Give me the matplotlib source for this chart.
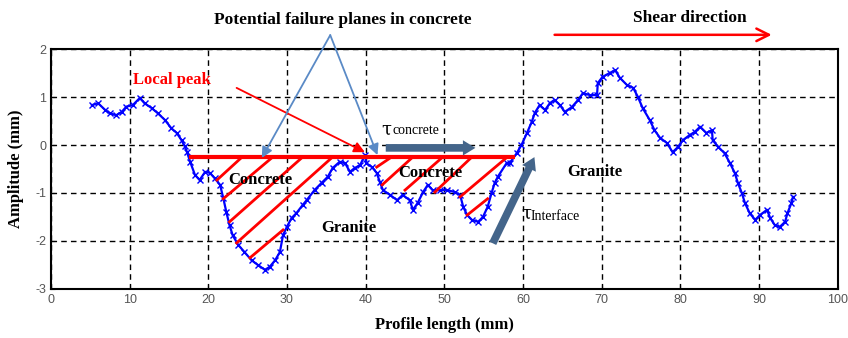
import matplotlib
matplotlib.use("Agg")
import matplotlib.pyplot as plt

plt.rcParams["axes.unicode_minus"] = False

# profile (mm, mm)
profile_x = [5.2, 6.0, 6.9, 7.5, 8.3, 9.0, 9.6, 10.4, 11.3, 11.9, 12.8, 13.6, 14.5, 15.3,
             16.0, 16.6, 17.0, 17.3, 17.7, 18.3, 18.9, 19.6, 20.2, 20.8, 21.5, 21.9, 22.3,
             22.7, 23.1, 23.8, 24.6, 25.5, 26.3, 27.2, 27.8, 28.5, 29.1, 29.5, 30.0, 30.6,
             31.2, 32.0, 32.5, 33.5, 34.4, 35.2, 35.8, 36.7, 37.4, 38.0, 38.6, 39.3, 39.9,
             40.1, 40.8, 41.4, 41.8, 42.2, 43.1, 44.0, 44.7, 45.6, 46.0, 46.6, 47.3, 47.9,
             48.5, 49.4, 50.4, 51.3, 52.0, 52.4, 52.9, 53.5, 54.3, 54.9, 55.5, 56.0, 56.4,
             56.8, 57.9, 58.3, 59.2, 59.8, 60.5, 61.1, 61.5, 62.1, 62.8, 63.4, 64.0, 64.7,
             65.3, 66.2, 67.0, 67.6, 68.5, 69.4, 69.5, 70.1, 71.0, 71.7, 72.3, 73.2, 74.0,
             74.6, 75.2, 76.1, 76.7, 77.4, 78.3, 79.0, 79.7, 80.3, 81.2, 81.8, 82.5, 83.3,
             84.0, 84.1, 84.8, 85.6, 86.3, 86.9, 87.3, 87.8, 88.2, 88.8, 89.5, 90.1, 91.0,
             91.4, 92.0, 92.6, 93.3, 93.6, 94.1, 94.3]
profile_y = [0.83, 0.87, 0.73, 0.66, 0.62, 0.69, 0.80, 0.83, 0.98, 0.87, 0.77, 0.66, 0.52, 0.35,
             0.25, 0.10, -0.02, -0.15, -0.35, -0.62, -0.73, -0.56, -0.58, -0.69, -0.83, -1.10, -1.40,
             -1.67, -1.88, -2.08, -2.23, -2.40, -2.50, -2.60, -2.54, -2.40, -2.23, -1.88, -1.70, -1.52,
             -1.42, -1.25, -1.15, -0.94, -0.79, -0.66, -0.48, -0.35, -0.38, -0.56, -0.48, -0.42, -0.21,
             -0.38, -0.46, -0.58, -0.77, -0.94, -1.04, -1.15, -1.04, -1.15, -1.35, -1.21, -0.98, -0.83,
             -0.94, -0.94, -0.94, -0.98, -1.04, -1.29, -1.46, -1.56, -1.60, -1.50, -1.29, -1.00, -0.79,
             -0.66, -0.38, -0.38, -0.17, 0.00, 0.25, 0.48, 0.67, 0.83, 0.73, 0.87, 0.94, 0.83,
             0.69, 0.79, 0.94, 1.08, 1.04, 1.04, 1.29, 1.42, 1.50, 1.56, 1.40, 1.25, 1.19,
             1.00, 0.77, 0.52, 0.31, 0.15, 0.04, -0.15, -0.04, 0.10, 0.21, 0.27, 0.38, 0.25,
             0.31, 0.10, -0.04, -0.17, -0.38, -0.58, -0.79, -1.00, -1.21, -1.42, -1.56, -1.46, -1.35,
             -1.52, -1.67, -1.71, -1.60, -1.42, -1.21, -1.08]

# failure plane level and hatch segments (x0, y0, x1, y1)
plane_x = [17.5, 59.0]
plane_y = -0.25
hatch_segs = [(21.1, -0.73, 24.3, -0.25), (21.9, -1.12, 28.2, -0.25),
              (22.7, -1.60, 32.0, -0.25), (23.6, -2.04, 35.8, -0.25),
              (25.3, -2.35, 29.5, -1.77),
              (41.4, -0.46, 43.3, -0.25), (42.1, -0.83, 46.0, -0.25),
              (45.0, -0.94, 49.8, -0.25), (48.8, -0.98, 53.5, -0.25),
              (52.0, -1.08, 58.0, -0.25), (52.9, -1.46, 55.5, -1.12)]

xticks = list(range(0, 101, 10))
yticks = [-3, -2, -1, 0, 1, 2]

serif = "Liberation Serif"
slate = "#44658a"
light_blue = "#5a8ac6"

fig = plt.figure(figsize=(8.48, 3.38), dpi=100)
ax = fig.add_axes([0.060, 0.145, 0.928, 0.710])

ax.plot(profile_x, profile_y, color="blue", lw=1.6, marker="x", ms=4, mew=1.0, zorder=3)

ax.plot(plane_x, [plane_y, plane_y], color="red", lw=3, zorder=4, solid_capstyle="butt")
for x0, y0, x1, y1 in hatch_segs:
    ax.plot([x0, x1], [y0, y1], color="red", lw=2, zorder=4)

ax.set_xlim(0, 100)
ax.set_ylim(-3, 2)
ax.set_xticks(xticks)
ax.set_yticks(yticks)
ax.grid(True, color="black", linestyle=(0, (4, 3)), lw=1)
ax.tick_params(direction="in", labelsize=9, labelcolor="#555555", length=3)
for lab in ax.get_xticklabels() + ax.get_yticklabels():
    lab.set_family("Liberation Sans")
for sp in ax.spines.values():
    sp.set_linewidth(1.5)

ax.set_xlabel("Profile length (mm)", family=serif, weight="bold", fontsize=12, labelpad=8)
ax.set_ylabel("Amplitude (mm)", family=serif, weight="bold", fontsize=12, labelpad=8)

# region labels
tkw = dict(family=serif, weight="bold", fontsize=12, va="center", zorder=6)
ax.text(22.5, -0.73, "Concrete", **tkw)
ax.text(44.1, -0.58, "Concrete", **tkw)
ax.text(34.4, -1.73, "Granite", **tkw)
ax.text(65.6, -0.56, "Granite", **tkw)

# shear stress labels
ax.text(42.0, 0.33, "τ", family="DejaVu Serif", fontsize=13, va="center")
ax.text(43.4, 0.30, "concrete", family=serif, fontsize=10, va="center")
ax.text(59.8, -1.44, "τ", family="DejaVu Serif", fontsize=13, va="center")
ax.text(61.0, -1.49, "Interface", family=serif, fontsize=10, va="center")

# thick slate arrows
ax.annotate("", xy=(54.3, -0.06), xytext=(42.2, -0.06),
            arrowprops=dict(arrowstyle="simple,head_width=1.1,head_length=0.9,tail_width=0.55",
                            color=slate, lw=0, mutation_scale=10), zorder=5)
ax.annotate("", xy=(61.6, -0.2), xytext=(56.0, -2.1),
            arrowprops=dict(arrowstyle="simple,head_width=1.1,head_length=0.9,tail_width=0.55",
                            color=slate, lw=0, mutation_scale=10), zorder=5)

# local peak
ax.text(10.4, 1.35, "Local peak", family=serif, weight="bold", fontsize=12,
        color="red", va="center")
ax.annotate("", xy=(39.9, -0.15), xytext=(23.6, 1.19),
            arrowprops=dict(arrowstyle="-|>", color="red", lw=1.3, mutation_scale=16,
                            shrinkA=0, shrinkB=0), zorder=5)

# potential failure planes
for end in [(26.8, -0.27), (41.5, -0.21)]:
    ax.annotate("", xy=end, xytext=(35.5, 2.29), annotation_clip=False,
                arrowprops=dict(arrowstyle="-|>", color=light_blue, lw=1.3,
                                mutation_scale=16, shrinkA=0, shrinkB=0), zorder=5)
fig.text(0.404, 0.941, "Potential failure planes in concrete", family=serif,
         weight="bold", fontsize=12.5, ha="center", va="center")

# shear direction
fig.text(0.814, 0.947, "Shear direction", family=serif, weight="bold",
         fontsize=12.5, ha="center", va="center")
ax.annotate("", xy=(0.910, 0.897), xytext=(0.654, 0.897), xycoords="figure fraction",
            textcoords="figure fraction",
            arrowprops=dict(arrowstyle="->,head_width=0.45,head_length=0.9", color="red",
                            lw=1.8, shrinkA=0, shrinkB=0))

fig.savefig("out.png", dpi=100)
